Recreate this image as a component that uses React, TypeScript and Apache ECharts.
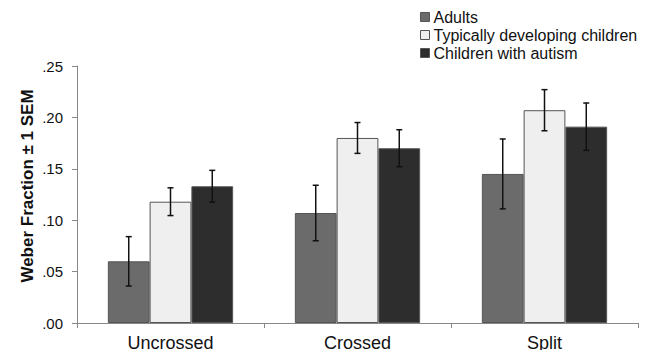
import React, { useEffect, useRef } from "react";
import * as echarts from "echarts";

const categories = ["Uncrossed", "Crossed", "Split"];
const seriesNames = ["Adults", "Typically developing children", "Children with autism"];
const adults = [0.06, 0.107, 0.145];
const typical = [0.118, 0.18, 0.207];
const autism = [0.133, 0.17, 0.191];
const adultsSem = [0.024, 0.027, 0.034];
const typicalSem = [0.0135, 0.015, 0.02];
const autismSem = [0.0155, 0.018, 0.023];
const yTicks = [0, 0.05, 0.1, 0.15, 0.2, 0.25];
const yTitle = "Weber Fraction ± 1 SEM";

const colors = ["#6b6b6b", "#efefef", "#2d2d2d"];
const CAT_GAP = 0.33;
const FONT = "Liberation Sans, Arial, sans-serif";

export default function App() {
  const ref = useRef<HTMLDivElement>(null);
  useEffect(() => {
    if (!ref.current) return;
    const chart = echarts.init(ref.current, null, { renderer: "svg" });
    const values = [adults, typical, autism];
    const sems = [adultsSem, typicalSem, autismSem];

    const barSeries = seriesNames.map((name, i) => ({
      name,
      type: "bar",
      data: values[i],
      barGap: "0%",
      barCategoryGap: CAT_GAP * 100 + "%",
      itemStyle: { color: colors[i], borderColor: "#555", borderWidth: 1 },
    }));

    const errSeries = seriesNames.map((name, i) => ({
      type: "custom",
      name: name + " err",
      z: 5,
      data: values[i].map((v, j) => [j, v, sems[i][j]]),
      renderItem: (params: any, api: any) => {
        const idx = api.value(0);
        const v = api.value(1);
        const s = api.value(2);
        const band = api.size([1, 0])[0];
        const bw = (band * (1 - CAT_GAP)) / 3;
        const c = api.coord([idx, v]);
        const x = c[0] + (i - 1) * bw;
        const top = api.coord([idx, v + s])[1];
        const bot = api.coord([idx, v - s])[1];
        const cap = 3;
        const st = { stroke: "#111", lineWidth: 1.5 };
        return {
          type: "group",
          children: [
            { type: "line", shape: { x1: x, y1: top, x2: x, y2: bot }, style: st },
            { type: "line", shape: { x1: x - cap, y1: top, x2: x + cap, y2: top }, style: st },
            { type: "line", shape: { x1: x - cap, y1: bot, x2: x + cap, y2: bot }, style: st },
          ],
        };
      },
    }));

    chart.setOption({
      animation: false,
      backgroundColor: "#fff",
      textStyle: { fontFamily: FONT },
      legend: {
        data: seriesNames,
        orient: "vertical",
        left: 415,
        top: 4,
        itemWidth: 9,
        itemHeight: 9,
        itemGap: 2,
        textStyle: { fontSize: 16, color: "#111", padding: [0, 0, 0, -1] },
        icon: "rect",
        itemStyle: { borderColor: "#555", borderWidth: 1 },
      },
      graphic: [
        {
          type: "text",
          x: 27,
          y: 186,
          rotation: Math.PI / 2,
          style: {
            text: yTitle,
            fontSize: 17,
            fontWeight: "bold",
            fill: "#111",
            fontFamily: FONT,
            align: "center",
            verticalAlign: "middle",
          },
        },
      ],
      grid: { left: 77, right: 19, top: 66, bottom: 35 },
      xAxis: {
        type: "category",
        data: categories,
        axisLine: { lineStyle: { color: "#888" } },
        axisTick: { show: true, length: 5, lineStyle: { color: "#888" } },
        axisLabel: { fontSize: 18, color: "#111", margin: 11 },
      },
      yAxis: {
        type: "value",
        min: yTicks[0],
        max: yTicks[yTicks.length - 1],
        interval: 0.05,
        splitLine: { show: false },
        axisLine: { show: true, lineStyle: { color: "#888" } },
        axisTick: { show: true, length: 5, lineStyle: { color: "#888" } },
        axisLabel: {
          fontSize: 15,
          color: "#111",
          margin: 14,
          formatter: (v: number) => v.toFixed(2).replace(/^0/, ""),
        },
      },
      series: [...barSeries, ...errSeries],
    });
    return () => chart.dispose();
  }, []);
  return <div ref={ref} style={{ width: 657, height: 358, margin: -8 }} />;
}
